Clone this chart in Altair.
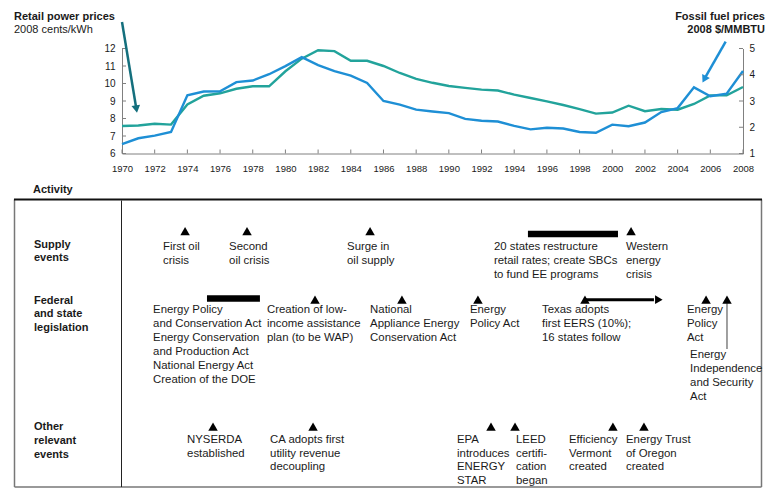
import altair as alt
import pandas as pd

# ---------------- data ----------------
years = list(range(1970, 2009))
retail_price = [7.57, 7.60, 7.70, 7.65, 8.80, 9.30, 9.44, 9.70, 9.84, 9.84,
                10.70, 11.42, 11.90, 11.85, 11.30, 11.30, 11.00, 10.60, 10.26, 10.04,
                9.86, 9.75, 9.65, 9.60, 9.36, 9.17, 8.98, 8.77, 8.54, 8.28,
                8.34, 8.73, 8.42, 8.54, 8.50, 8.83, 9.32, 9.32, 9.80]
fossil_price = [1.36, 1.58, 1.68, 1.82, 3.22, 3.36, 3.37, 3.72, 3.78, 4.02,
                4.33, 4.67, 4.37, 4.14, 3.97, 3.69, 3.00, 2.86, 2.67, 2.60,
                2.54, 2.32, 2.25, 2.22, 2.05, 1.92, 1.98, 1.95, 1.82, 1.79,
                2.10, 2.04, 2.18, 2.58, 2.73, 3.52, 3.18, 3.28, 4.14]

x_tick_years = list(range(1970, 2009, 2))
left_ticks = [6, 7, 8, 9, 10, 11, 12]
right_ticks = [1, 2, 3, 4, 5]

row_keys = ["supply", "federal", "other"]
row_titles = ["Supply\nevents", "Federal\nand state\nlegislation", "Other\nrelevant\nevents"]

event_labels = [
    "First oil\ncrisis",
    "Second\noil crisis",
    "Surge in\noil supply",
    "20 states restructure\nretail rates; create SBCs\nto fund EE programs",
    "Western\nenergy\ncrisis",
    "Energy Policy\nand Conservation Act\nEnergy Conservation\nand Production Act\nNational Energy Act\nCreation of the DOE",
    "Creation of low-\nincome assistance\nplan (to be WAP)",
    "National\nAppliance Energy\nConservation Act",
    "Energy\nPolicy Act",
    "Texas adopts\nfirst EERS (10%);\n16 states follow",
    "Energy\nPolicy\nAct",
    "Energy\nIndependence\nand Security\nAct",
    "NYSERDA\nestablished",
    "CA adopts first\nutility revenue\ndecoupling",
    "EPA\nintroduces\nENERGY\nSTAR",
    "LEED\ncertifi-\ncation\nbegan",
    "Efficiency\nVermont\ncreated",
    "Energy Trust\nof Oregon\ncreated",
]
event_rows = ["supply"] * 5 + ["federal"] * 7 + ["other"] * 6
marker_years = [1973.86, 1977.65, 1985.18, None, 2001.15,
                None, 1981.81, 1987.13, 1991.78, 1998.33, 2005.74, 2007.02,
                1975.57, 1981.69, 1992.58, 1994.05, 2000.04, 2001.94]
label_years = [1972.51, 1976.55, 1983.77, 1992.76, 2000.84,
               1971.90, 1978.87, 1985.18, 1991.29, 1995.70, 2004.57, 2004.76,
               1973.98, 1979.06, 1990.50, 1994.11, 1997.35, 2000.84]

period_rows = ["supply", "federal"]
period_start = [1994.84, 1975.20]
period_end = [2000.35, 1978.44]

span_row = "federal"
span_start = 1998.33
span_end = 2002.85

# ---------------- layout (page pixels) ----------------
FONT = "Liberation Sans"
OX, OY = 122.0, 48.5          # plot origin on page
W, H = 621, 105
SVG_W, SVG_H = 758, 480
TEAL = "#22a39b"
BLUE = "#1e8fd5"
DARK = "#146f7d"
GRAY = "#808080"
INK = "#1a1a1a"
LH = 14.2

BOX_TOP, BOX_BOTTOM_REF, BOX_BOTTOM = 199.5, 494.5, 487.0
TL_K = (BOX_BOTTOM - BOX_TOP) / (BOX_BOTTOM_REF - BOX_TOP)

ROW_MARK_Y = {"supply": 232.0, "federal": 302.3, "other": 432.5}
ROW_TEXT_Y = {"supply": 248.3, "federal": 313.3, "other": 446.0}
ROW_TITLE_Y = {"supply": 245.7, "federal": 303.3, "other": 433.3}
TEXT_Y_OVERRIDE = {11: 359.3}
PERIOD_Y = {"supply": 235.0, "federal": 301.0}


def tl(y):
    return BOX_TOP + (y - BOX_TOP) * TL_K


def rx(v):
    return v - OX


def ry(v):
    return v - OY


xscale = alt.Scale(domain=[1970, 2008], nice=False, zero=False)
xaxis = alt.Axis(values=x_tick_years, format="d", ticks=False, grid=False,
                 domainColor=GRAY, labelFont=FONT, labelFontSize=9.5,
                 labelColor=INK, labelPadding=10, title=None,
                 labelFlush=False, labelOverlap=False)
yl = alt.Scale(domain=[6, 12], nice=False, zero=False)
yr = alt.Scale(domain=[1, 5], nice=False, zero=False)


def X(field):
    return alt.X(field, scale=xscale, axis=xaxis)


one = alt.Data(values=[{"k": 1}])


def seg(x1, x2, y1, y2, color, width):
    return alt.Chart(one).mark_rule(color=color, strokeWidth=width).encode(
        x=alt.value(rx(x1)), x2=alt.value(rx(x2)),
        y=alt.value(ry(y1)), y2=alt.value(ry(y2)))


def label(x, y, s, bold=False, align="left", size=11):
    return alt.Chart(one).mark_text(
        text=s, align=align, baseline="middle", font=FONT, fontSize=size,
        fontWeight="bold" if bold else "normal", color=INK
    ).encode(x=alt.value(rx(x)), y=alt.value(ry(y)))


# ---------------- price chart ----------------
prices = pd.DataFrame({"year": years, "retail": retail_price, "fossil": fossil_price})

retail_line = alt.Chart(prices).mark_line(color=TEAL, strokeWidth=2.4).encode(
    x=X("year:Q"),
    y=alt.Y("retail:Q", scale=yl,
            axis=alt.Axis(orient="left", values=left_ticks, format="d", ticks=False,
                          grid=False, domainColor=GRAY, labelFont=FONT,
                          labelFontSize=10, labelColor=INK, labelPadding=7,
                          title=None)))
fossil_line = alt.Chart(prices).mark_line(color=BLUE, strokeWidth=2.4).encode(
    x=X("year:Q"),
    y=alt.Y("fossil:Q", scale=yr,
            axis=alt.Axis(orient="right", values=right_ticks, format="d", ticks=False,
                          grid=False, domainColor=GRAY, labelFont=FONT,
                          labelFontSize=10, labelColor=INK, labelPadding=6,
                          title=None)))

lt = alt.Chart(pd.DataFrame({"v": left_ticks})).mark_rule(color=GRAY).encode(
    x=alt.value(0), x2=alt.value(4), y=alt.Y("v:Q", scale=yl, axis=None))
rt = alt.Chart(pd.DataFrame({"v": right_ticks})).mark_rule(color=GRAY).encode(
    x=alt.value(W - 4), x2=alt.value(W), y=alt.Y("v:Q", scale=yr, axis=None))
xt = alt.Chart(pd.DataFrame({"year": x_tick_years})).mark_rule(color=GRAY).encode(
    x=X("year:Q"), y=alt.value(H), y2=alt.value(H - 4))

# arrows pointing to the two series
ra = pd.DataFrame({"x0": [1970.0], "x1": [1970.88], "y0": [13.51], "y1": [8.54]})
retail_arrow = alt.Chart(ra).mark_rule(color=DARK, strokeWidth=2.5).encode(
    x=X("x0:Q"), x2="x1", y=alt.Y("y0:Q", scale=yl, axis=None), y2="y1")
retail_head = alt.Chart(ra).mark_point(shape="triangle-up", angle=170.6, filled=True,
                                       size=75, color=DARK, opacity=1).encode(
    x=X("x1:Q"), y=alt.Y("y1:Q", scale=yl, axis=None))
fa = pd.DataFrame({"x0": [2006.94], "x1": [2005.63], "y0": [5.26], "y1": [3.83]})
fossil_arrow = alt.Chart(fa).mark_rule(color=BLUE, strokeWidth=2.5).encode(
    x=X("x0:Q"), x2="x1", y=alt.Y("y0:Q", scale=yr, axis=None), y2="y1")
fossil_head = alt.Chart(fa).mark_point(shape="triangle-up", angle=207.6, filled=True,
                                       size=75, color=BLUE, opacity=1).encode(
    x=X("x1:Q"), y=alt.Y("y1:Q", scale=yr, axis=None))

# ---------------- timeline ----------------
text_rows = []
for i, (lab, row, ly) in enumerate(zip(event_labels, event_rows, label_years)):
    y0 = TEXT_Y_OVERRIDE.get(i, ROW_TEXT_Y[row])
    for j, line in enumerate(lab.split("\n")):
        text_rows.append({"tx": ly, "py": ry(tl(y0 + j * LH)), "line": line})
event_text = alt.Chart(pd.DataFrame(text_rows)).mark_text(
    align="left", baseline="middle", font=FONT, fontSize=11.4, color=INK).encode(
    x=X("tx:Q"), y=alt.Y("py:Q", scale=None, axis=None), text="line:N")

mk = [{"my": m, "py": ry(tl(ROW_MARK_Y[r]))} for m, r in zip(marker_years, event_rows) if m is not None]
markers = alt.Chart(pd.DataFrame(mk)).mark_point(
    shape="triangle-up", filled=True, size=90, color="black", opacity=1).encode(
    x=X("my:Q"), y=alt.Y("py:Q", scale=None, axis=None))

pdf = pd.DataFrame({"s": period_start, "e": period_end,
                    "py": [ry(tl(PERIOD_Y[r])) for r in period_rows]})
periods = alt.Chart(pdf).mark_rule(color="black", strokeWidth=6.5).encode(
    x=X("s:Q"), x2="e", y=alt.Y("py:Q", scale=None, axis=None))

sdf = pd.DataFrame({"s": [span_start], "e": [span_end - 0.3], "h": [span_end],
                    "py": [ry(tl(ROW_MARK_Y[span_row]))]})
span_line = alt.Chart(sdf).mark_rule(color="black", strokeWidth=3).encode(
    x=X("s:Q"), x2="e", y=alt.Y("py:Q", scale=None, axis=None))
span_head = alt.Chart(sdf).mark_point(shape="triangle-right", filled=True, size=75,
                                      color="black", opacity=1).encode(
    x=X("h:Q"), y=alt.Y("py:Q", scale=None, axis=None))

cdf = pd.DataFrame({"x": [marker_years[11]]})
connector = alt.Chart(cdf).mark_rule(color=GRAY, strokeWidth=1.5).encode(
    x=X("x:Q"), y=alt.value(ry(tl(306))), y2=alt.value(ry(tl(353))))

row_label_layers = []
for key, title in zip(row_keys, row_titles):
    for j, line in enumerate(title.split("\n")):
        row_label_layers.append(label(34, tl(ROW_TITLE_Y[key] + j * 14.0), line, bold=True))

box = [
    seg(14.5, 761.5, BOX_BOTTOM, BOX_BOTTOM, "#777777", 1.5),
    seg(14.5, 14.5, BOX_TOP, BOX_BOTTOM, "#777777", 1.5),
    seg(761.5, 761.5, BOX_TOP, BOX_BOTTOM, "#777777", 1.5),
    seg(121.5, 121.5, BOX_TOP + 1, BOX_BOTTOM, "#222222", 1),
    seg(14, 762, BOX_TOP, BOX_TOP, "#111111", 2),
]

annotations = [
    label(14, 16.5, "Retail power prices", bold=True),
    label(14, 29.5, "2008 cents/kWh"),
    label(765, 16.5, "Fossil fuel prices", bold=True, align="right"),
    label(765, 29.5, "2008 $/MMBTU", bold=True, align="right"),
    label(33, 190, "Activity", bold=True),
]

chart = alt.layer(
    retail_line, fossil_line, lt, rt, xt,
    retail_arrow, retail_head, fossil_arrow, fossil_head,
    *box, periods, span_line, span_head, connector, markers, event_text,
    *row_label_layers, *annotations,
).resolve_scale(y="independent").properties(
    width=W, height=H,
    padding={"left": OX - 8, "top": OY - 8, "right": SVG_W - (OX - 8) - W,
             "bottom": SVG_H - (OY - 8) - H},
    autosize=alt.AutoSizeParams(type="none"),
).configure_view(stroke=None)

chart.save("out.html", embed_options={"renderer": "svg", "actions": False})
